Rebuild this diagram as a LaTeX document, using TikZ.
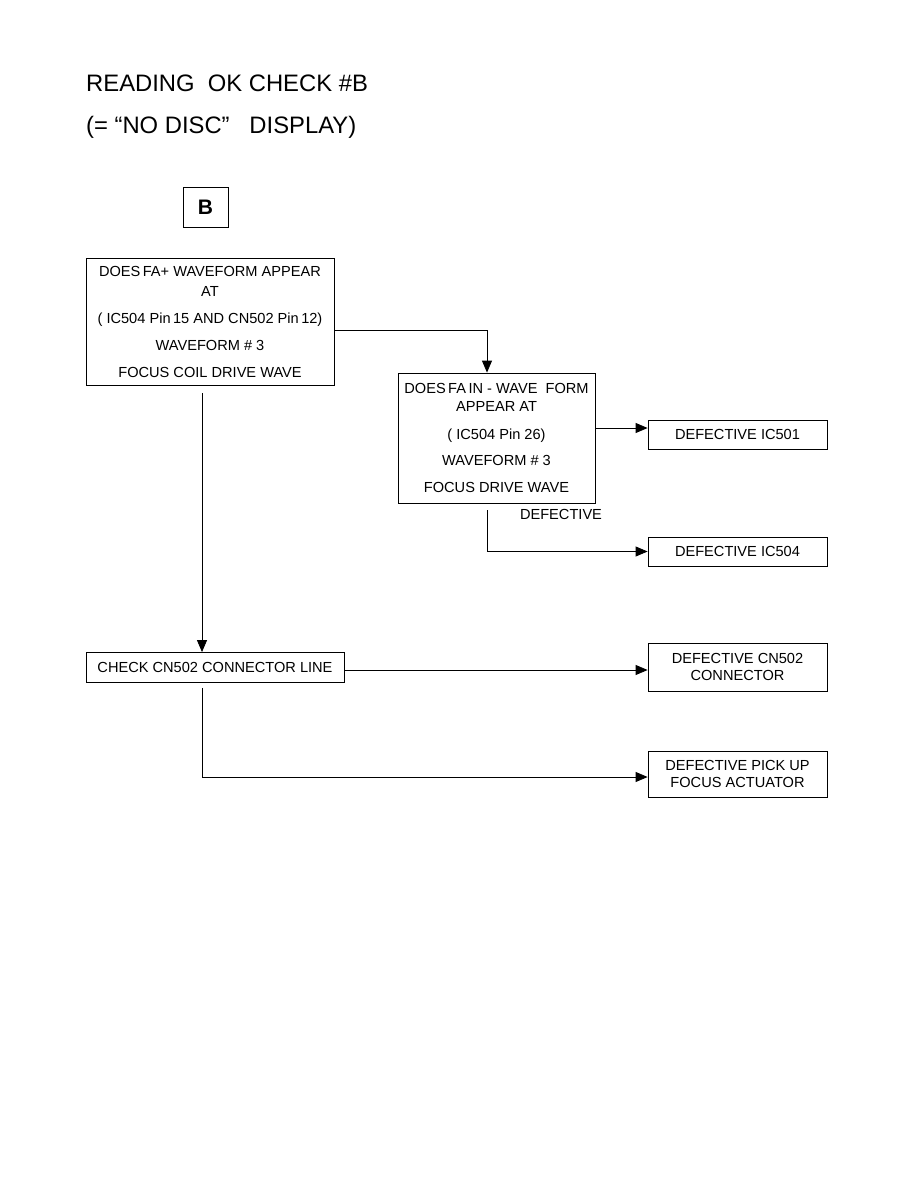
\documentclass[tikz,border=0pt]{standalone}
\usepackage{fontspec}
\setmainfont{Liberation Sans}
\usetikzlibrary{arrows.meta}
\begin{document}
\begin{tikzpicture}[x=1pt,y=-1pt,
  box/.style={draw,line width=0.8pt,inner sep=0pt,align=center,font=\fontsize{14.6}{18}\selectfont},
  smallbox/.style={box,minimum width=179pt,font=\fontsize{14.6}{17}\selectfont},
  conn/.style={line width=0.8pt},
  arr/.style={conn,-{Triangle[length=12pt,width=10pt]}},
  title/.style={anchor=base west,inner sep=0pt,font=\fontsize{23.8}{28}\selectfont}]
\useasboundingbox (0,0) rectangle (914,1190);
\fill[white] (0,0) rectangle (914,1190);
\node[title] (t1) at (86,92) {READING\ \ OK CHECK \#B};
\node[title] (t2) at (86,134) {(= “NO DISC”\ \ \ DISPLAY)};
\node[draw,line width=0.8pt,minimum width=45pt,minimum height=40pt,inner sep=0pt,font=\bfseries\fontsize{21}{24}\selectfont] (b) at (205.5,207) {B};
\node[box,minimum width=248pt,minimum height=127pt] (q1) at (210,321.5)
  {DOES\,FA+ WAVEFORM APPEAR\\[2pt]AT\\[9pt]( IC504 Pin\,15 AND CN502 Pin\,12)\\[9pt]WAVEFORM \# 3\\[9pt]FOCUS COIL DRIVE WAVE};
\node[box,minimum width=197pt,minimum height=130pt] (q2) at (496.5,438)
  {DOES\,FA\,IN - WAVE\ \ FORM\\APPEAR AT\\[10pt]( IC504 Pin 26)\\[8pt]WAVEFORM \# 3\\[9pt]FOCUS DRIVE WAVE};
\node[smallbox,minimum height=29pt] (ic501) at (737.5,434.5) {DEFECTIVE IC501};
\node[smallbox,minimum height=29pt] (ic504) at (737.5,551.5) {DEFECTIVE IC504};
\node[box,minimum width=258pt,minimum height=30pt] (chk) at (215,667.5) {CHECK CN502 CONNECTOR LINE};
\node[smallbox,minimum height=48pt] (cn502) at (737.5,667) {DEFECTIVE CN502\\CONNECTOR};
\node[smallbox,minimum height=46pt] (pick) at (737.5,774) {DEFECTIVE PICK UP\\FOCUS ACTUATOR};
\node[inner sep=0pt,font=\fontsize{14.6}{16}\selectfont] (dlab) at (561,514) {DEFECTIVE};
\draw[arr] ([yshift=-8.5pt]q1.east) -| ([xshift=-9.5pt]q2.north);
\draw[arr] ([yshift=10pt]q2.east) -- ([yshift=6.5pt]ic501.west);
\draw[arr] ([xshift=-9.5pt,yshift=-7pt]q2.south) |- (ic504.west);
\draw[arr] ([xshift=-8pt,yshift=-8pt]q1.south) -- ([xshift=-13pt]chk.north);
\draw[arr] ([yshift=-2.5pt]chk.east) -- ([yshift=-3pt]cn502.west);
\draw[arr] ([xshift=-13pt,yshift=-5pt]chk.south) |- ([yshift=-3pt]pick.west);
\end{tikzpicture}
\end{document}
